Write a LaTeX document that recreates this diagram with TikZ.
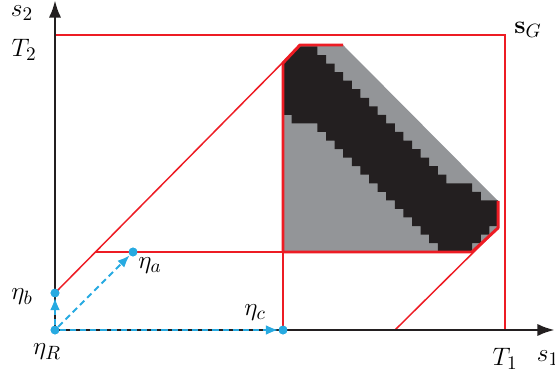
\documentclass[tikz,border=0pt]{standalone}
\usetikzlibrary{arrows.meta, positioning}

\definecolor{setred}{RGB}{237,28,36}
\definecolor{setblue}{RGB}{39,170,225}
\definecolor{setgray}{RGB}{147,149,152}
\definecolor{setblack}{RGB}{35,31,32}

\begin{document}
\begin{tikzpicture}[
  x=0.57pt, y=-0.57pt,
  font=\fontsize{15.5}{18}\selectfont,
  axis/.style={line width=1.7pt, draw=setblack, -{Latex[length=10pt,width=7pt]}},
  bound/.style={line width=0.85pt, draw=setred},
  edge/.style={line width=1.7pt, draw=setred, line join=round},
  dot/.style={circle, fill=setblue, inner sep=0pt, minimum size=5pt},
  move/.style={line width=1.1pt, draw=setblue, dash pattern=on 3.5pt off 2.3pt,
               -{Latex[length=7pt,width=5.5pt]}},
]
\useasboundingbox (0,0) rectangle (555,375);

% reachable set
\fill[setgray] (283,252) -- (283,63) -- (300,45) -- (343,45) -- (498,201)
  -- (498,228) -- (472,252) -- cycle;
\begin{scope}[shift={(283,46.5)}, xscale=8.6, yscale=8.55]
  \fill[setblack] (0,1.95) -- (1.95,0) -- (4,0)
    |- (5,1) |- (6,2) |- (7,3) |- (8,4) |- (9,5) |- (10,6) |- (11,7)
    |- (12,8) |- (13,9) |- (14,10) |- (15,11) |- (16,12) |- (17,13)
    |- (18,14) |- (19,15) |- (22,16) |- (23,17) |- (25,18)
    -- (25,21) -| (24,22) -| (23,23) -| (22,24) -- (18,24)
    |- (17,23) |- (16,22) |- (15,21) |- (14,20) |- (13,19) |- (12,18)
    |- (11,17) |- (10,16) |- (9,15) |- (8,14) |- (7,13) |- (6,12)
    |- (5,11) |- (4,10) |- (1,9) |- (0,8) -- cycle;
\end{scope}

% corner points
\coordinate (O) at (55,330);
\coordinate (xend) at (555,330);
\coordinate (yend) at (55,0);
\coordinate (T2) at (55,35);
\coordinate (G) at (505,35);
\coordinate (T1) at (505,330);
\coordinate (cross) at (95.5,252);
\coordinate (foot) at (395,330);

\node[dot] (etaR) at (55,330) {};
\node[dot] (etab) at (55,293) {};
\node[dot] (etaa) at (133,252) {};
\node[dot] (etac) at (283,330) {};

% bounds
\draw[bound] (T2) -- (G) -- (T1);
\draw[bound] (etab.center) -- (300,45);
\draw[bound] (cross) -- (472,252);
\draw[bound] (etac.center) -- (283,252);
\draw[bound] (foot) -- (498,228);
\draw[edge] (343,45) -- (300,45) -- (283,63) -- (283,252) -- (472,252)
  -- (498,228) -- (498,201);

% axes
\draw[axis] (O) -- (xend);
\draw[axis] (O) -- (yend);

% moves
\draw[move] (etaR) -- (etab);
\draw[move] (etaR) -- (etaa);
\draw[move] (etaR) -- (etac);
\foreach \p in {etaR, etab, etaa, etac} \node[dot] at (\p) {};

% labels
\node at (22,13) {$s_2$};
\node at (24,50) {$T_2$};
\node at (528,30) {$\mathbf{s}_G$};
\node at (22,297) {$\eta_b$};
\node at (150,266) {$\eta_a$};
\node at (47,352) {$\eta_R$};
\node at (255,313) {$\eta_c$};
\node at (505,359) {$T_1$};
\node at (548,358) {$s_1$};

\end{tikzpicture}
\end{document}
